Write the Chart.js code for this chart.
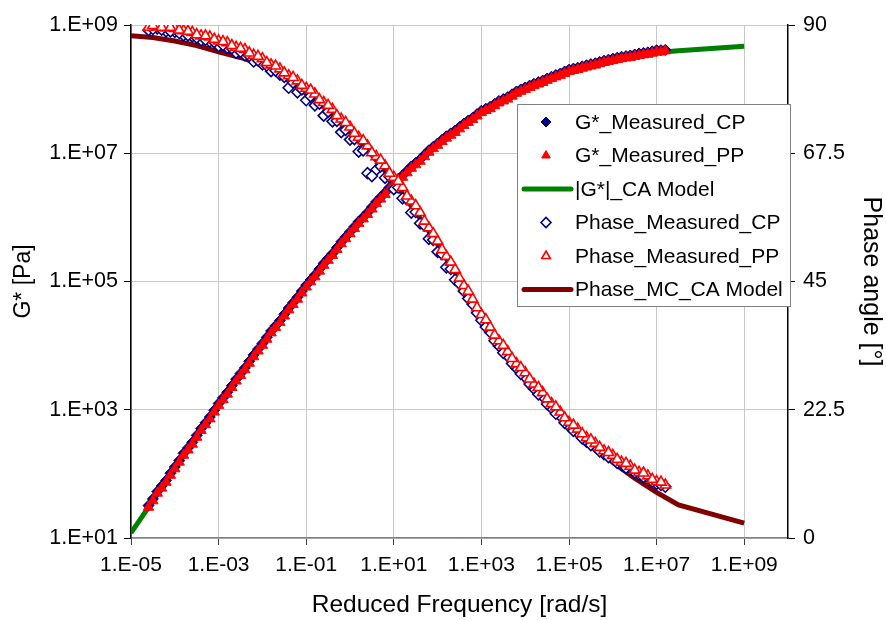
<!DOCTYPE html>
<html><head><meta charset="utf-8">
<script src="https://cdn.jsdelivr.net/npm/chart.js@4.4.1/dist/chart.umd.min.js"></script>
<style>html,body{margin:0;padding:0;background:#fff;}#wrap{width:886px;height:620px;}</style>
</head><body><div id="wrap"><canvas id="c" width="886" height="620"></canvas></div>
<script>
// ---- tick labels ----
const xTickValues = [1e-5, 1e-3, 1e-1, 1e1, 1e3, 1e5, 1e7, 1e9];
const xTickLabels = ['1.E-05','1.E-03','1.E-01','1.E+01','1.E+03','1.E+05','1.E+07','1.E+09'];
const yTickValues = [1e1, 1e3, 1e5, 1e7, 1e9];
const yTickLabels = ['1.E+01','1.E+03','1.E+05','1.E+07','1.E+09'];
const y2TickValues = [0, 22.5, 45, 67.5, 90];
const y2TickLabels = ['0','22.5','45','67.5','90'];

// ---- frequency grids of the two measured sweeps ----
const freqA = [2.51e-5,3.98e-5,6.31e-5,1.0e-4,1.58e-4,2.51e-4,3.98e-4,6.31e-4,1.0e-3,1.58e-3,2.51e-3,3.98e-3,6.31e-3,1.0e-2,1.58e-2,2.51e-2,3.98e-2,6.31e-2,0.1,0.158,0.251,0.398,0.631,1,1.58,2.51,3.98,6.31,10,15.8,25.1,39.8,63.1,100,158,251,398,631,1000,1580,2510,3980,6310,1e4,1.58e4,2.51e4,3.98e4,6.31e4,1e5,1.58e5,2.51e5,3.98e5,6.31e5,1e6,1.58e6,2.51e6,3.98e6,6.31e6,1e7,1.58e7];
const freqB = [3.16e-5,5.01e-5,7.94e-5,1.26e-4,2.0e-4,3.16e-4,5.01e-4,7.94e-4,1.26e-3,2.0e-3,3.16e-3,5.01e-3,7.94e-3,1.26e-2,2.0e-2,3.16e-2,5.01e-2,7.94e-2,0.126,0.2,0.316,0.501,0.794,1.26,2.0,3.16,5.01,7.94,12.6,20,31.6,50.1,79.4,126,200,316,501,794,1260,2000,3160,5010,7940,1.26e4,2.0e4,3.16e4,5.01e4,7.94e4,1.26e5,2.0e5,3.16e5,5.01e5,7.94e5,1.26e6,2.0e6,3.16e6,5.01e6,7.94e6,1.26e7];

// ---- measured, PP ----
const gPP_A = [30.2,50,74,120,195,290,475,720,1170,1750,2800,4200,6700,10100,15800,23000,36000,53000,82000,118000,179000,255000,388000,555000,805000,1.11e6,1.64e6,2.27e6,3.27e6,4.22e6,5.82e6,7.5e6,1.035e7,1.33e7,1.72e7,2.11e7,2.72e7,3.35e7,4.3e7,4.95e7,6.1e7,7.0e7,8.6e7,9.9e7,1.13e8,1.27e8,1.46e8,1.64e8,1.88e8,2.02e8,2.21e8,2.37e8,2.6e8,2.79e8,2.99e8,3.13e8,3.36e8,3.5e8,3.78e8,3.95e8];
const gPP_B = [38,60,95,152,236,372,585,920,1430,2220,3430,5300,8250,12600,19100,28900,43700,66200,98800,145000,214000,315000,464000,669000,9.45e5,1.35e6,1.93e6,2.73e6,3.72e6,4.96e6,6.62e6,8.82e6,1.18e7,1.52e7,1.91e7,2.40e7,3.02e7,3.81e7,4.63e7,5.50e7,6.54e7,7.77e7,9.24e7,1.06e8,1.20e8,1.37e8,1.55e8,1.76e8,1.95e8,2.12e8,2.29e8,2.49e8,2.70e8,2.89e8,3.06e8,3.24e8,3.43e8,3.64e8,3.79e8];
const phasePP_A = [89.6,89.8,89.5,89.4,89.0,88.7,88.1,87.9,87.2,86.9,86.1,85.7,84.7,84.1,83.0,82.3,81.1,80.2,78.9,77.9,76.4,75.2,73.5,72.1,70.3,68.8,66.9,65.3,63.3,61.5,59.1,57.1,54.4,52.1,49.4,47.1,44.3,41.9,39.2,37.0,34.6,32.7,30.6,29.0,27.0,25.5,23.6,22.1,20.3,19.1,17.6,16.6,15.3,14.5,13.3,12.6,11.5,10.9,9.9,9.3];
const phasePP_B = [89.9,89.6,89.6,89.1,88.9,88.3,88.1,87.5,87.1,86.4,85.9,85.1,84.5,83.4,82.8,81.6,80.8,79.4,78.6,76.9,75.9,74.1,72.9,71.0,69.7,67.6,66.3,64.0,62.6,60.0,58.3,55.6,53.4,50.6,48.4,45.6,43.3,40.4,38.3,35.6,33.8,31.5,29.9,27.9,26.4,24.4,23.0,21.1,19.8,18.3,17.2,15.9,15.0,13.8,13.1,11.9,11.4,10.3,9.8];

// ---- measured, CP ----
const gCP_A = [32,53,79,128,209,310,508,770,1250,1870,3000,4490,7170,10800,16900,24600,38500,56700,87700,126000,192000,273000,415000,594000,861000,1.19e6,1.75e6,2.43e6,3.5e6,4.52e6,6.23e6,8.03e6,1.11e7,1.42e7,1.84e7,2.26e7,2.91e7,3.58e7,4.6e7,5.3e7,6.53e7,7.49e7,9.2e7,1.06e8,1.21e8,1.36e8,1.56e8,1.75e8,2.01e8,2.16e8,2.36e8,2.54e8,2.78e8,2.99e8,3.2e8,3.35e8,3.6e8,3.75e8,4.04e8,4.1e8];
const gCP_B = [40.7,64.6,102,161,254,398,625,982,1531,2371,3673,5689,8810,13490,20420,30900,46770,70790,105700,155600,229100,337300,496600,716100,1.012e6,1.445e6,2.065e6,2.917e6,3.98e6,5.31e6,7.08e6,9.44e6,1.259e7,1.622e7,2.042e7,2.57e7,3.236e7,4.074e7,4.955e7,5.888e7,7.0e7,8.318e7,9.886e7,1.135e8,1.288e8,1.462e8,1.66e8,1.884e8,2.089e8,2.265e8,2.455e8,2.661e8,2.884e8,3.09e8,3.273e8,3.467e8,3.673e8,3.89e8,4.055e8];
const phaseCP_A = [89.1,89.4,88.9,88.8,88.2,88.0,87.3,87.1,86.3,86.0,85.1,84.7,83.6,83.1,81.9,81.3,79.0,78.2,76.8,75.9,74.1,73.1,71.2,69.9,67.8,64.0,64.6,63.2,61.2,59.6,57.1,55.2,52.5,50.2,47.5,45.3,43.3,41.0,38.2,36.1,33.7,31.9,29.8,28.2,26.2,24.8,22.8,21.4,19.6,18.4,16.9,16.0,14.7,13.9,12.8,12.1,11.1,10.5,9.5,9.0];
const phaseCP_B = [89.3,89.2,88.9,88.6,88.2,87.8,87.4,87.0,86.5,85.9,85.3,84.6,83.8,82.9,82.0,80.9,79.9,78.7,77.5,76.2,74.8,73.2,71.6,70.0,68.0,63.5,65.2,63.4,61.5,59.4,57.2,54.8,52.3,49.8,47.2,44.6,42.0,39.5,37.0,34.6,32.5,30.6,28.8,27.0,25.2,23.5,21.8,20.2,18.8,17.5,16.3,15.2,14.2,13.2,12.3,11.5,10.7,9.9,9.3];

// ---- CA model ----
const freqModel = [1e-5,3.16e-5,1e-4,3.16e-4,1e-3,3.16e-3,1e-2,3.16e-2,0.1,0.316,1,3.16,10,31.6,100,316,1000,3160,1e4,3.16e4,1e5,3.16e5,1e6,3.16e6,1e7,3.16e7,1e9];
const gModel = [12.0,38,120,372,1148,3467,10230,29510,81280,218800,562300,1.38e6,3.24e6,6.76e6,1.35e7,2.45e7,4.27e7,6.68e7,1.0e8,1.40e8,1.86e8,2.32e8,2.82e8,3.27e8,3.72e8,3.98e8,4.68e8];
const phaseModel = [88.1,87.8,87.2,86.4,85.3,84.3,83.0,80.8,78.0,75.0,71.3,67.2,62.5,57.2,51.5,45.3,39.2,33.6,28.5,24.0,20.0,16.4,13.3,10.5,8.0,5.8,2.6];

const seriesNames = ['G*_Measured_CP','G*_Measured_PP','|G*|_CA Model','Phase_Measured_CP','Phase_Measured_PP','Phase_MC_CA Model'];

const pts = (xs, ys) => xs.map((x, i) => ({x: x, y: ys[i]}));
const FONT = "'Liberation Sans', Arial, sans-serif";

const datasets = [
  {label: seriesNames[0], data: pts(freqA, gCP_A).concat(pts(freqB, gCP_B)), yAxisID: 'y', order: 5,
   pointStyle: 'rectRot', pointRadius: 5.5, backgroundColor: '#000080', borderColor: '#000080', borderWidth: 1, showLine: false},
  {label: seriesNames[1], data: pts(freqA, gPP_A).concat(pts(freqB, gPP_B)), yAxisID: 'y', order: 4,
   pointStyle: 'triangle', pointRadius: 6, backgroundColor: '#ff0000', borderColor: '#ff0000', borderWidth: 1, showLine: false},
  {label: seriesNames[2], data: pts(freqModel, gModel), yAxisID: 'y', order: 8,
   showLine: true, pointRadius: 0, borderColor: '#008000', borderWidth: 5, backgroundColor: '#008000', tension: 0},
  {label: seriesNames[3], data: pts(freqA, phaseCP_A).concat(pts(freqB, phaseCP_B)), yAxisID: 'y2', order: 3,
   pointStyle: 'rectRot', pointRadius: 5.5, backgroundColor: '#ffffff', borderColor: '#000080', borderWidth: 1.6, showLine: false},
  {label: seriesNames[4], data: pts(freqA, phasePP_A).concat(pts(freqB, phasePP_B)), yAxisID: 'y2', order: 2,
   pointStyle: 'triangle', pointRadius: 6, backgroundColor: '#ffffff', borderColor: '#ff0000', borderWidth: 1.6, showLine: false},
  {label: seriesNames[5], data: pts(freqModel, phaseModel), yAxisID: 'y2', order: 7,
   showLine: true, pointRadius: 0, borderColor: '#800000', borderWidth: 5, backgroundColor: '#800000', tension: 0}
];

const boxLegend = {
  id: 'boxLegend',
  afterDraw(chart) {
    const ctx = chart.ctx;
    const x0 = 517, y0 = 104, w = 273, h = 202;
    ctx.save();
    ctx.fillStyle = '#ffffff';
    ctx.fillRect(x0, y0, w, h);
    ctx.strokeStyle = '#808080';
    ctx.lineWidth = 1;
    ctx.strokeRect(x0 + 0.5, y0 + 0.5, w, h);
    chart.data.datasets.forEach((ds, i) => {
      const cy = y0 + 18 + i * 33.5;
      if (ds.showLine) {
        ctx.strokeStyle = ds.borderColor;
        ctx.lineWidth = ds.borderWidth;
        ctx.lineCap = 'round';
        ctx.beginPath(); ctx.moveTo(524, cy); ctx.lineTo(571, cy); ctx.stroke();
      } else {
        ctx.fillStyle = ds.backgroundColor;
        ctx.strokeStyle = ds.borderColor;
        ctx.lineWidth = ds.borderWidth;
        Chart.helpers.drawPoint(ctx, {pointStyle: ds.pointStyle, radius: 5, borderWidth: ds.borderWidth, rotation: 0}, 546, cy);
      }
      ctx.fillStyle = '#000';
      ctx.font = '21px ' + FONT;
      ctx.textBaseline = 'middle';
      ctx.textAlign = 'left';
      ctx.fillText(ds.label, 575, cy + 1);
    });
    ctx.restore();
  }
};

new Chart(document.getElementById('c'), {
  type: 'scatter',
  data: {datasets: datasets},
  plugins: [boxLegend],
  options: {
    responsive: false,
    animation: false,
    events: [],
    layout: {padding: {top: 25, left: 0, right: 0, bottom: 0}},
    plugins: {legend: {display: false}, tooltip: {enabled: false}, title: {display: false}},
    scales: {
      x: {
        type: 'logarithmic', position: 'bottom', min: 1e-5, max: 1e10,
        afterBuildTicks: s => { s.ticks = xTickValues.map(v => ({value: v})); },
        afterFit: s => { s.height = 82; },
        ticks: {autoSkip: false, maxRotation: 0, padding: 8, color: '#000',
                font: {family: FONT, size: 21},
                callback: v => xTickLabels[xTickValues.indexOf(v)]},
        grid: {color: '#c8c8c8', lineWidth: 1, tickLength: 7, tickColor: '#404040'},
        border: {color: '#808080', width: 1.5},
        title: {display: true, text: 'Reduced Frequency [rad/s]', color: '#000',
                font: {family: FONT, size: 24.5}, padding: {top: 0, bottom: 0}}
      },
      y: {
        type: 'logarithmic', position: 'left', min: 10, max: 1e9,
        afterBuildTicks: s => { s.ticks = yTickValues.map(v => ({value: v})); },
        afterFit: s => { s.width = 131; },
        ticks: {autoSkip: false, padding: 6, color: '#000', font: {family: FONT, size: 21.5},
                callback: v => yTickLabels[yTickValues.indexOf(v)]},
        grid: {color: '#c8c8c8', lineWidth: 1, tickLength: 7, tickColor: '#000'},
        border: {color: '#000', width: 1.5},
        title: {display: true, text: 'G* [Pa]', color: '#000',
                font: {family: FONT, size: 23}, padding: {top: 10, bottom: 0}}
      },
      y2: {
        type: 'linear', position: 'right', min: 0, max: 90,
        afterBuildTicks: s => { s.ticks = y2TickValues.map(v => ({value: v})); },
        afterFit: s => { s.width = 98; },
        ticks: {autoSkip: false, padding: 8, color: '#000', font: {family: FONT, size: 21.5},
                callback: v => y2TickLabels[y2TickValues.indexOf(v)]},
        grid: {drawOnChartArea: false, tickLength: 7, tickColor: '#000'},
        border: {color: '#000', width: 1.5},
        title: {display: true, text: 'Phase angle [\u00B0]', color: '#000',
                font: {family: FONT, size: 25}, padding: {top: 0, bottom: 0}}
      }
    }
  }
});
</script>
</body></html>
